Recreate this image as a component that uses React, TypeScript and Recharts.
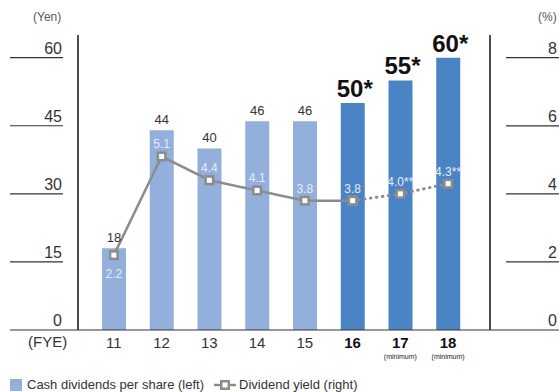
import React from 'react';
import { ComposedChart, Bar, Line, XAxis, YAxis, Cell, LabelList } from 'recharts';

const years = ['11', '12', '13', '14', '15', '16', '17', '18'];
const dividends = [18, 44, 40, 46, 46, 50, 55, 60];
const dividendLabels = ['18', '44', '40', '46', '46', '50*', '55*', '60*'];
const emphasized = [false, false, false, false, false, true, true, true];
const minimumNote = [false, false, false, false, false, false, true, true];
const yieldActual = [2.2, 5.1, 4.4, 4.1, 3.8, 3.8, null, null];
const yieldForecast = [null, null, null, null, null, 3.8, 4.0, 4.3];
const yieldLabels = ['2.2', '5.1', '4.4', '4.1', '3.8', '3.8', '4.0**', '4.3**'];
const leftTicks = [0, 15, 30, 45, 60];
const rightTicks = [0, 2, 4, 6, 8];

const data = years.map((y, i) => ({
  year: y,
  dividend: dividends[i],
  yA: yieldActual[i],
  yF: yieldForecast[i],
}));

const FONT = '"Liberation Sans", Arial, sans-serif';
const LIGHT = '#93afdb';
const DARK = '#4b84c5';
const GRAY = '#8c8c8c';

const LeftTick = (props: any) => {
  const { y, payload } = props;
  const v = payload.value;
  return (
    <g>
      <line x1={10} x2={v === 0 ? 559 : 63} y1={y} y2={y} stroke="#333" strokeWidth={1.2} />
      <text x={62} y={y - 4} textAnchor="end" fontSize={16} fill="#333" fontFamily={FONT}>{v}</text>
    </g>
  );
};

const RightTick = (props: any) => {
  const { y, payload } = props;
  const v = payload.value;
  return (
    <g>
      {v !== 0 && <line x1={506} x2={559} y1={y} y2={y} stroke="#333" strokeWidth={1.2} />}
      <text x={557} y={y - 4} textAnchor="end" fontSize={16} fill="#333" fontFamily={FONT}>{v}</text>
    </g>
  );
};

const XTick = (props: any) => {
  const { x, payload, index } = props;
  const i = years.indexOf(payload.value);
  const bold = emphasized[i];
  return (
    <g>
      <text x={x} y={348} textAnchor="middle" fontSize={15} fontWeight={bold ? 'bold' : 'normal'} fill={bold ? '#111' : '#333'} fontFamily={FONT}>{payload.value}</text>
      {minimumNote[i] && (
        <text x={x} y={359} textAnchor="middle" fontSize={7} fill="#222" fontFamily={FONT}>(minimum)</text>
      )}
    </g>
  );
};

const BarLabel = (props: any) => {
  const { x, y, width, index } = props;
  const cx = x + width / 2;
  if (emphasized[index]) {
    return (
      <text x={cx + 2} y={y - 6} textAnchor="middle" fontSize={24} fontWeight="bold" fill="#111" fontFamily={FONT}>{dividendLabels[index]}</text>
    );
  }
  return (
    <text x={cx} y={y - 6} textAnchor="middle" fontSize={13} fill="#333" fontFamily={FONT}>{dividendLabels[index]}</text>
  );
};

const YieldLabel = (props: any) => {
  const { x, y, index, value } = props;
  if (value == null) return null;
  const below = index === 0;
  return (
    <text x={x} y={below ? y + 23 : y - 8} textAnchor="middle" fontSize={12} fill="#e4ecf8" fontFamily={FONT}>{yieldLabels[index]}</text>
  );
};

const SquareDot = (props: any) => {
  const { cx, cy, value } = props;
  if (value == null || cx == null || cy == null) return null;
  return (
    <g>
      <rect x={cx - 5} y={cy - 5} width={10} height={10} fill={GRAY} />
      <rect x={cx - 2.5} y={cy - 2.5} width={5} height={5} fill="#fff" />
    </g>
  );
};

export default function App() {
  return (
    <div style={{ position: 'absolute', left: 0, top: 0, width: 559, height: 392, fontFamily: FONT, background: '#fff' }}>
      <ComposedChart width={559} height={392} data={data} margin={{ top: 35, right: 0, bottom: 32, left: 10 }}>
        <XAxis dataKey="year" axisLine={false} tickLine={false} height={30} padding={{ left: 12, right: 18 }} tick={<XTick />} interval={0} />
        <YAxis yAxisId="left" width={68} domain={[0, 65]} ticks={leftTicks} axisLine={{ stroke: '#111', strokeWidth: 1.5 }} tickLine={false} tick={<LeftTick />} allowDataOverflow />
        <YAxis yAxisId="right" orientation="right" width={69} domain={[0, 8.667]} ticks={rightTicks} axisLine={{ stroke: '#111', strokeWidth: 1.5 }} tickLine={false} tick={<RightTick />} allowDataOverflow />
        <Bar yAxisId="left" dataKey="dividend" barSize={24} isAnimationActive={false}>
          {data.map((d, i) => (
            <Cell key={i} fill={emphasized[i] ? DARK : LIGHT} />
          ))}
          <LabelList dataKey="dividend" content={<BarLabel />} />
        </Bar>
        <Line yAxisId="right" dataKey="yA" stroke={GRAY} strokeWidth={2.5} dot={<SquareDot />} activeDot={false} isAnimationActive={false} connectNulls={false}>
          <LabelList dataKey="yA" content={<YieldLabel />} />
        </Line>
        <Line yAxisId="right" dataKey="yF" stroke={GRAY} strokeWidth={3} strokeDasharray="0.5 5.5" strokeLinecap="round" dot={<SquareDot />} activeDot={false} isAnimationActive={false} connectNulls={false}>
          <LabelList dataKey="yF" content={(p: any) => (p.index >= 6 ? <YieldLabel {...p} /> : null)} />
        </Line>
      </ComposedChart>
      <div style={{ position: 'absolute', left: 33, top: 10, fontSize: 12, color: '#555' }}>(Yen)</div>
      <div style={{ position: 'absolute', left: 538, top: 10, fontSize: 12, color: '#555' }}>(%)</div>
      <div style={{ position: 'absolute', left: 28, top: 333, fontSize: 15, color: '#333' }}>(FYE)</div>
      <div style={{ position: 'absolute', left: 10, top: 377, height: 15, display: 'flex', alignItems: 'center', fontSize: 13, color: '#333', whiteSpace: 'nowrap' }}>
        <span style={{ display: 'inline-block', width: 12, height: 12, background: LIGHT, marginRight: 5 }} />
        <span>Cash dividends per share (left)</span>
        <svg width={22} height={12} style={{ marginLeft: 10, marginRight: 3 }}>
          <line x1={0} x2={22} y1={6} y2={6} stroke={GRAY} strokeWidth={2.5} />
          <rect x={6} y={1} width={10} height={10} fill={GRAY} />
          <rect x={8.5} y={3.5} width={5} height={5} fill="#fff" />
        </svg>
        <span>Dividend yield (right)</span>
      </div>
    </div>
  );
}
